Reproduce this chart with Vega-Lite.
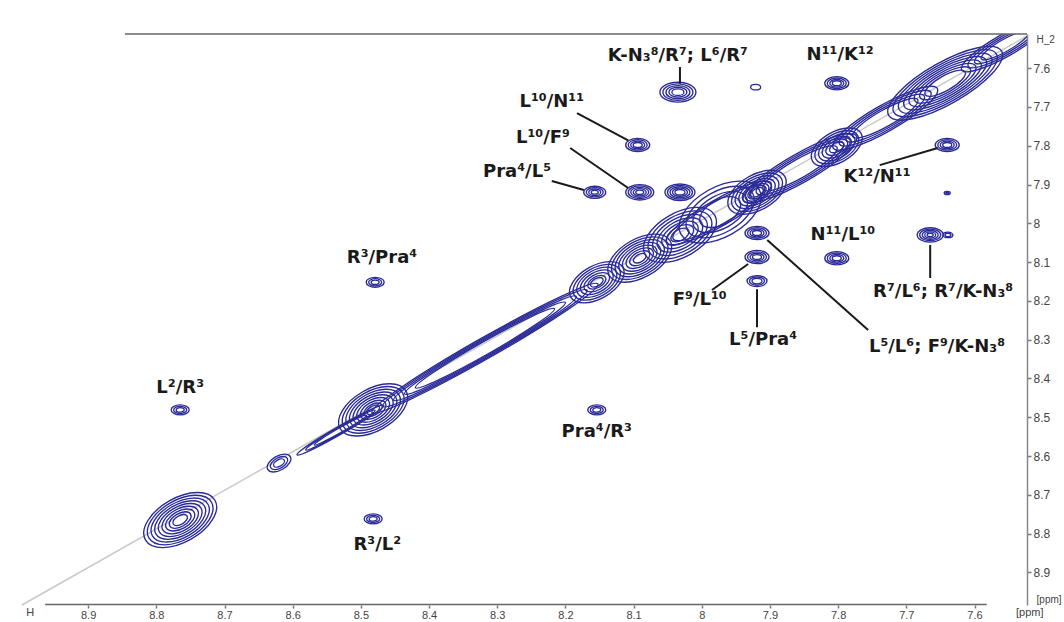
{
"$schema":"https://vega.github.io/schema/vega-lite/v6.json",
"width":1005,"height":571,
"autosize":{"type":"none"},
"padding":{"left":22,"top":34,"right":37,"bottom":17},
"background":"white",
"config":{"view":{"stroke":null},"font":"Liberation Sans"},
"datasets":{
"diag":[{"x":8.997,"y":8.984,"x2":7.523,"y2":7.517}],
"frame":[{"x":8.846,"y":7.512,"x2":7.523,"y2":7.512},{"x":8.963,"y":8.983,"x2":7.582,"y2":8.983}],
"leaders":[
{"x":8.032,"y":7.597,"x2":8.032,"y2":7.640},
{"x":8.183,"y":7.716,"x2":8.108,"y2":7.786},
{"x":8.193,"y":7.806,"x2":8.108,"y2":7.909},
{"x":8.220,"y":7.891,"x2":8.173,"y2":7.914},
{"x":7.739,"y":7.850,"x2":7.654,"y2":7.806},
{"x":7.985,"y":8.172,"x2":7.932,"y2":8.105},
{"x":7.919,"y":8.170,"x2":7.919,"y2":8.268},
{"x":7.665,"y":8.056,"x2":7.665,"y2":8.141},
{"x":7.904,"y":8.043,"x2":7.756,"y2":8.275}
],
"labels":[
{"x":8.035,"y":7.569,"t":"K-N₃⁸/R⁷; L⁶/R⁷"},
{"x":7.797,"y":7.566,"t":"N¹¹/K¹²"},
{"x":8.220,"y":7.688,"t":"L¹⁰/N¹¹"},
{"x":8.233,"y":7.780,"t":"L¹⁰/F⁹"},
{"x":8.271,"y":7.868,"t":"Pra⁴/L⁵"},
{"x":7.743,"y":7.881,"t":"K¹²/N¹¹"},
{"x":7.793,"y":8.030,"t":"N¹¹/L¹⁰"},
{"x":8.469,"y":8.090,"t":"R³/Pra⁴"},
{"x":8.003,"y":8.198,"t":"F⁹/L¹⁰"},
{"x":7.910,"y":8.301,"t":"L⁵/Pra⁴"},
{"x":7.646,"y":8.177,"t":"R⁷/L⁶; R⁷/K-N₃⁸"},
{"x":7.655,"y":8.319,"t":"L⁵/L⁶; F⁹/K-N₃⁸"},
{"x":8.765,"y":8.425,"t":"L²/R³"},
{"x":8.154,"y":8.538,"t":"Pra⁴/R³"},
{"x":8.476,"y":8.829,"t":"R³/L²"}
],
"ends1":[{"x":8.985,"y":9.004,"t":"H"},{"x":7.519,"y":9.004,"t":"[ppm]"}],
"ends2":[{"x":7.509,"y":7.528,"t":"H_2"},{"x":7.509,"y":8.972,"t":"[ppm]"}],
"peaks":[
{"x":8.035,"y":7.662,"w":0.0528,"k":"c"},{"x":8.035,"y":7.662,"w":0.044,"k":"c"},{"x":8.035,"y":7.662,"w":0.0352,"k":"c"},{"x":8.035,"y":7.662,"w":0.0264,"k":"c"},{"x":8.035,"y":7.662,"w":0.0176,"k":"c"},
{"x":7.921,"y":7.649,"w":0.0147,"k":"c"},
{"x":7.802,"y":7.639,"w":0.0352,"k":"c"},{"x":7.802,"y":7.639,"w":0.0279,"k":"c"},{"x":7.802,"y":7.639,"w":0.0205,"k":"c"},{"x":7.802,"y":7.639,"w":0.0132,"k":"c"},
{"x":8.094,"y":7.798,"w":0.0352,"k":"c"},{"x":8.094,"y":7.798,"w":0.0279,"k":"c"},{"x":8.094,"y":7.798,"w":0.0205,"k":"c"},{"x":8.094,"y":7.798,"w":0.0132,"k":"c"},
{"x":7.640,"y":7.798,"w":0.0352,"k":"c"},{"x":7.640,"y":7.798,"w":0.0279,"k":"c"},{"x":7.640,"y":7.798,"w":0.0205,"k":"c"},{"x":7.640,"y":7.798,"w":0.0132,"k":"c"},
{"x":8.157,"y":7.920,"w":0.0323,"k":"c"},{"x":8.157,"y":7.920,"w":0.0249,"k":"c"},{"x":8.157,"y":7.920,"w":0.0176,"k":"c"},{"x":8.157,"y":7.920,"w":0.0103,"k":"c"},
{"x":7.640,"y":7.922,"w":0.0088,"k":"c"},{"x":7.640,"y":7.922,"w":0.0044,"k":"c"},
{"x":8.091,"y":7.920,"w":0.0411,"k":"c"},{"x":8.091,"y":7.920,"w":0.0337,"k":"c"},{"x":8.091,"y":7.920,"w":0.0264,"k":"c"},{"x":8.091,"y":7.920,"w":0.0191,"k":"c"},{"x":8.091,"y":7.920,"w":0.0117,"k":"c"},
{"x":8.032,"y":7.920,"w":0.044,"k":"c"},{"x":8.032,"y":7.920,"w":0.0367,"k":"c"},{"x":8.032,"y":7.920,"w":0.0293,"k":"c"},{"x":8.032,"y":7.920,"w":0.022,"k":"c"},{"x":8.032,"y":7.920,"w":0.0147,"k":"c"},
{"x":7.665,"y":8.030,"w":0.0381,"k":"c"},{"x":7.665,"y":8.030,"w":0.0308,"k":"c"},{"x":7.665,"y":8.030,"w":0.0235,"k":"c"},{"x":7.665,"y":8.030,"w":0.0161,"k":"c"},{"x":7.665,"y":8.030,"w":0.0088,"k":"c"},
{"x":7.639,"y":8.030,"w":0.0147,"k":"c"},{"x":7.639,"y":8.030,"w":0.0088,"k":"c"},
{"x":7.802,"y":8.090,"w":0.0352,"k":"c"},{"x":7.802,"y":8.090,"w":0.0279,"k":"c"},{"x":7.802,"y":8.090,"w":0.0205,"k":"c"},{"x":7.802,"y":8.090,"w":0.0132,"k":"c"},
{"x":7.919,"y":8.025,"w":0.0352,"k":"c"},{"x":7.919,"y":8.025,"w":0.0279,"k":"c"},{"x":7.919,"y":8.025,"w":0.0205,"k":"c"},{"x":7.919,"y":8.025,"w":0.0132,"k":"c"},
{"x":7.919,"y":8.087,"w":0.0352,"k":"c"},{"x":7.919,"y":8.087,"w":0.0279,"k":"c"},{"x":7.919,"y":8.087,"w":0.0205,"k":"c"},{"x":7.919,"y":8.087,"w":0.0132,"k":"c"},
{"x":7.919,"y":8.149,"w":0.0293,"k":"c"},{"x":7.919,"y":8.149,"w":0.022,"k":"c"},{"x":7.919,"y":8.149,"w":0.0147,"k":"c"},
{"x":8.479,"y":8.152,"w":0.0264,"k":"c"},{"x":8.479,"y":8.152,"w":0.0191,"k":"c"},{"x":8.479,"y":8.152,"w":0.0117,"k":"c"},
{"x":8.765,"y":8.481,"w":0.0264,"k":"c"},{"x":8.765,"y":8.481,"w":0.0191,"k":"c"},{"x":8.765,"y":8.481,"w":0.0117,"k":"c"},
{"x":8.154,"y":8.481,"w":0.0264,"k":"c"},{"x":8.154,"y":8.481,"w":0.0191,"k":"c"},{"x":8.154,"y":8.481,"w":0.0117,"k":"c"},
{"x":8.482,"y":8.762,"w":0.0264,"k":"c"},{"x":8.482,"y":8.762,"w":0.0191,"k":"c"},{"x":8.482,"y":8.762,"w":0.0117,"k":"c"},
{"x":8.765,"y":8.765,"w":0.1173,"k":"d"},{"x":8.765,"y":8.765,"w":0.1056,"k":"d"},{"x":8.765,"y":8.765,"w":0.0938,"k":"d"},{"x":8.765,"y":8.765,"w":0.0821,"k":"d"},{"x":8.765,"y":8.765,"w":0.0704,"k":"d"},{"x":8.765,"y":8.765,"w":0.0587,"k":"d"},{"x":8.765,"y":8.765,"w":0.0469,"k":"d"},{"x":8.765,"y":8.765,"w":0.0352,"k":"d"},{"x":8.765,"y":8.765,"w":0.0235,"k":"d"},
{"x":8.620,"y":8.618,"w":0.0381,"k":"d"},{"x":8.620,"y":8.618,"w":0.0279,"k":"d"},{"x":8.620,"y":8.618,"w":0.0176,"k":"d"},
{"x":8.482,"y":8.481,"w":0.1114,"k":"d"},{"x":8.482,"y":8.481,"w":0.0997,"k":"d"},{"x":8.482,"y":8.481,"w":0.088,"k":"d"},{"x":8.482,"y":8.481,"w":0.0762,"k":"d"},{"x":8.482,"y":8.481,"w":0.0645,"k":"d"},{"x":8.482,"y":8.481,"w":0.0528,"k":"d"},{"x":8.482,"y":8.481,"w":0.0411,"k":"d"},{"x":8.482,"y":8.481,"w":0.0293,"k":"d"},{"x":8.482,"y":8.481,"w":0.0205,"k":"d"},
{"x":8.530,"y":8.533,"w":0.1466,"k":"r"},{"x":8.530,"y":8.533,"w":0.1173,"k":"r"},{"x":8.530,"y":8.533,"w":0.088,"k":"r"},
{"x":8.318,"y":8.322,"w":0.3812,"k":"r"},{"x":8.318,"y":8.322,"w":0.3446,"k":"r"},{"x":8.318,"y":8.322,"w":0.3079,"k":"r"},{"x":8.318,"y":8.322,"w":0.2713,"k":"r"},{"x":8.318,"y":8.322,"w":0.2346,"k":"r"},
{"x":8.154,"y":8.152,"w":0.088,"k":"d"},{"x":8.154,"y":8.152,"w":0.0762,"k":"d"},{"x":8.154,"y":8.152,"w":0.0645,"k":"d"},{"x":8.154,"y":8.152,"w":0.0528,"k":"d"},{"x":8.154,"y":8.152,"w":0.0411,"k":"d"},{"x":8.154,"y":8.152,"w":0.0293,"k":"d"},{"x":8.154,"y":8.152,"w":0.0205,"k":"d"},
{"x":8.091,"y":8.090,"w":0.1026,"k":"d"},{"x":8.091,"y":8.090,"w":0.0909,"k":"d"},{"x":8.091,"y":8.090,"w":0.0792,"k":"d"},{"x":8.091,"y":8.090,"w":0.0674,"k":"d"},{"x":8.091,"y":8.090,"w":0.0557,"k":"d"},{"x":8.091,"y":8.090,"w":0.044,"k":"d"},{"x":8.091,"y":8.090,"w":0.0323,"k":"d"},{"x":8.091,"y":8.090,"w":0.0205,"k":"d"},
{"x":8.032,"y":8.030,"w":0.1173,"k":"d"},{"x":8.032,"y":8.030,"w":0.1026,"k":"d"},{"x":8.032,"y":8.030,"w":0.088,"k":"d"},{"x":8.032,"y":8.030,"w":0.0733,"k":"d"},{"x":8.032,"y":8.030,"w":0.0587,"k":"d"},{"x":8.032,"y":8.030,"w":0.044,"k":"d"},{"x":8.032,"y":8.030,"w":0.0293,"k":"d"},
{"x":7.973,"y":7.971,"w":0.132,"k":"d"},{"x":7.973,"y":7.971,"w":0.11,"k":"d"},{"x":7.973,"y":7.971,"w":0.088,"k":"d"},{"x":7.973,"y":7.971,"w":0.066,"k":"d"},
{"x":7.975,"y":7.973,"w":0.176,"k":"w"},{"x":7.975,"y":7.973,"w":0.154,"k":"w"},
{"x":7.919,"y":7.920,"w":0.0938,"k":"d"},{"x":7.919,"y":7.920,"w":0.0821,"k":"d"},{"x":7.919,"y":7.920,"w":0.0704,"k":"d"},{"x":7.919,"y":7.920,"w":0.0587,"k":"d"},{"x":7.919,"y":7.920,"w":0.0469,"k":"d"},{"x":7.919,"y":7.920,"w":0.0381,"k":"d"},{"x":7.919,"y":7.920,"w":0.0293,"k":"d"},{"x":7.919,"y":7.920,"w":0.0205,"k":"d"},
{"x":7.856,"y":7.858,"w":0.1906,"k":"w"},{"x":7.856,"y":7.858,"w":0.1686,"k":"w"},{"x":7.856,"y":7.858,"w":0.1466,"k":"w"},{"x":7.856,"y":7.858,"w":0.1246,"k":"w"},
{"x":7.802,"y":7.804,"w":0.0821,"k":"d"},{"x":7.802,"y":7.804,"w":0.0704,"k":"d"},{"x":7.802,"y":7.804,"w":0.0587,"k":"d"},{"x":7.802,"y":7.804,"w":0.0469,"k":"d"},{"x":7.802,"y":7.804,"w":0.0352,"k":"d"},{"x":7.802,"y":7.804,"w":0.0235,"k":"d"},
{"x":7.731,"y":7.729,"w":0.176,"k":"w"},{"x":7.731,"y":7.729,"w":0.154,"k":"w"},{"x":7.731,"y":7.729,"w":0.132,"k":"w"},{"x":7.731,"y":7.729,"w":0.11,"k":"w"},
{"x":7.643,"y":7.639,"w":0.1906,"k":"e"},{"x":7.643,"y":7.639,"w":0.173,"k":"e"},{"x":7.643,"y":7.639,"w":0.1554,"k":"e"},{"x":7.643,"y":7.639,"w":0.1378,"k":"e"},{"x":7.643,"y":7.639,"w":0.1202,"k":"e"},{"x":7.643,"y":7.639,"w":0.1026,"k":"e"},{"x":7.643,"y":7.639,"w":0.085,"k":"e"},{"x":7.643,"y":7.639,"w":0.0674,"k":"e"},
{"x":7.555,"y":7.541,"w":0.1466,"k":"w"},{"x":7.555,"y":7.541,"w":0.1246,"k":"w"},{"x":7.555,"y":7.541,"w":0.1026,"k":"w"},{"x":7.555,"y":7.541,"w":0.0806,"k":"w"}
]
},
"encoding":{
"x":{"field":"x","type":"quantitative","scale":{"domain":[7.523,8.997],"reverse":true,"zero":false,"nice":false},
"axis":{"orient":"bottom","values":[8.9,8.8,8.7,8.6,8.5,8.4,8.3,8.2,8.1,8.0,7.9,7.8,7.7,7.6],"format":".1~f","title":null,"grid":false,"domain":false,"tickSize":3,"tickColor":"#777","tickWidth":1.5,"labelFontSize":11,"labelColor":"#444","labelPadding":1,"labelFont":"Liberation Sans","labelFlush":false}},
"y":{"field":"y","type":"quantitative","scale":{"domain":[7.512,8.984],"reverse":true,"zero":false,"nice":false},
"axis":{"orient":"right","values":[7.6,7.7,7.8,7.9,8.0,8.1,8.2,8.3,8.4,8.5,8.6,8.7,8.8,8.9],"format":".1~f","title":null,"grid":false,"domain":true,"domainColor":"#888","domainWidth":1.5,"tickSize":4,"tickColor":"#777","tickWidth":1.5,"labelFontSize":12,"labelColor":"#444","labelPadding":2,"labelFont":"Liberation Sans","labelFlush":false}}
},
"layer":[
{"data":{"name":"diag"},"mark":{"type":"rule","color":"#c8c8c8","strokeWidth":1.5},"encoding":{"x2":{"field":"x2"},"y2":{"field":"y2"}}},
{"data":{"name":"peaks"},"mark":{"type":"point","filled":false,"stroke":"#2a2a98","strokeWidth":1.35,"opacity":1,"clip":true},
"encoding":{
"size":{"field":"w","type":"quantitative","scale":{"type":"pow","exponent":2,"domain":[0,1],"range":[0,465124],"zero":true},"legend":null},
"shape":{"field":"k","type":"nominal","scale":{"domain":["c","d","r","w","e"],"range":[
"M-1,0C-1,-0.3038,-0.5523,-0.55,0,-0.55C0.5523,-0.55,1,-0.3038,1,0C1,0.3038,0.5523,0.55,0,0.55C-0.5523,0.55,-1,0.3038,-1,0Z",
"M-0.8692,0.4945C-1.0194,0.2304,-0.7521,-0.205,-0.272,-0.4781C0.2081,-0.7512,0.719,-0.7586,0.8692,-0.4945C1.0194,-0.2304,0.7521,0.205,0.272,0.4781C-0.2081,0.7512,-0.719,0.7586,-0.8692,0.4945Z",
"M-0.8692,0.4945C-0.8911,0.4561,-0.5197,0.2036,-0.0396,-0.0695C0.4405,-0.3426,0.8473,-0.5329,0.8692,-0.4945C0.8911,-0.4561,0.5197,-0.2036,0.0396,0.0695C-0.4405,0.3426,-0.8473,0.5329,-0.8692,0.4945Z",
"M-0.8692,0.4945C-0.9293,0.3889,-0.5889,0.0819,-0.1088,-0.1912C0.3713,-0.4643,0.8091,-0.6001,0.8692,-0.4945C0.9293,-0.3889,0.5889,-0.0819,0.1088,0.1912C-0.3713,0.4643,-0.8091,0.6001,-0.8692,0.4945Z",
"M-0.8692,0.4945C-0.9566,0.3409,-0.6383,-0.005,-0.1582,-0.2781C0.3219,-0.5512,0.7818,-0.6481,0.8692,-0.4945C0.9566,-0.3409,0.6383,0.005,0.1582,0.2781C-0.3219,0.5512,-0.7818,0.6481,-0.8692,0.4945Z"
]},"legend":null}}},
{"data":{"name":"frame"},"mark":{"type":"rule","color":"#666","strokeWidth":1.5},"encoding":{"x2":{"field":"x2"},"y2":{"field":"y2"}}},
{"data":{"name":"leaders"},"mark":{"type":"rule","color":"#1a1a1a","strokeWidth":2},"encoding":{"x2":{"field":"x2"},"y2":{"field":"y2"}}},
{"data":{"name":"labels"},"mark":{"type":"text","font":"DejaVu Sans","fontWeight":"bold","fontSize":18,"color":"#1a1a1a","align":"center","baseline":"middle"},"encoding":{"text":{"field":"t"}}},
{"data":{"name":"ends1"},"mark":{"type":"text","font":"Liberation Sans","fontSize":11,"color":"#444","align":"center","baseline":"middle"},"encoding":{"text":{"field":"t"}}},
{"data":{"name":"ends2"},"mark":{"type":"text","font":"Liberation Sans","fontSize":10,"color":"#444","align":"left","baseline":"middle"},"encoding":{"text":{"field":"t"}}}
]
}
